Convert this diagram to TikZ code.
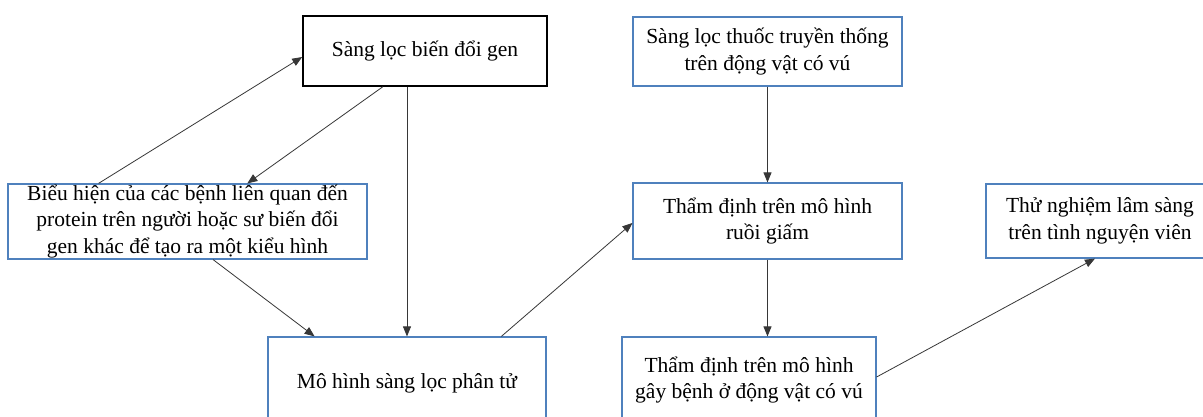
\documentclass[tikz,border=0pt]{standalone}
\usepackage{fontspec}
\setmainfont{Liberation Serif}
\usepackage{tikz}
\tikzset{
  block_font/.style = {font=\fontsize{21.5}{26.5}\selectfont},
  blue_line/.style = {draw={rgb,255:red,79;green,129;blue,189}, line width=1.2pt},
  black_line/.style = {draw=black, line width=1.6pt}
}
\tikzset{
  block/.style = {block_font, align=center, inner sep=0, blue_line},
  block_main/.style = {block, black_line},
  arrow/.style = {draw={rgb,255:red,55;green,55;blue,55}, line width=0.8pt,
    -{Triangle[length=10pt,width=8pt]}}
}
\usetikzlibrary{arrows.meta, calc}

\begin{document}
\begin{tikzpicture}[x=1pt, y=-1pt]{
        \useasboundingbox (0,0) rectangle (1203,416);
        \fill[white] (0,0) rectangle (1203,416);
        \clip (0,0) rectangle (1203,416);

        % Boxes, left part
        \node[block_main, minimum width=244, minimum height=70] at (425,51) (sl_gen) {
            Sàng lọc biến đổi gen};
        \node[block, minimum width=359, minimum height=75] at (187.5,221.5) (bieu_hien) {
            Biểu hiện của các bệnh liên quan đến\\
            protein trên người hoặc sư biến đổi\\
            gen khác để tạo ra một kiểu hình};
        \node[block, minimum width=278, minimum height=92] at (407,383) (mh_pt) {
            Mô hình sàng lọc phân tử};

        % Boxes, right part
        \node[block, minimum width=269, minimum height=69] at (767.5,51.5) (sl_thuoc) {
            Sàng lọc thuốc truyền thống\\
            trên động vật có vú};
        \node[block, minimum width=269, minimum height=76] at (767.5,221) (td_ruoi) {
            Thẩm định trên mô hình\\
            ruồi giấm};
        \node[block, minimum width=254, minimum height=86] at (749,380) (td_dv) {
            Thẩm định trên mô hình\\
            gây bệnh ở động vật có vú};
        \node[block, minimum width=228, minimum height=74] at (1100,221) (tn_ls) {
            Thử nghiệm lâm sàng\\
            trên tình nguyện viên};

        % Arrows
        \draw[arrow] ($(bieu_hien.north west)!0.253!(bieu_hien.north east)$)
            -- ($(sl_gen.west)+(0,6)$);
        \draw[arrow] ($(sl_gen.south west)!0.328!(sl_gen.south east)$)
            -- ($(bieu_hien.north west)!0.666!(bieu_hien.north east)$);
        \draw[arrow] (sl_gen.south -| mh_pt.north) -- (mh_pt.north);
        \draw[arrow] ($(bieu_hien.south west)!0.571!(bieu_hien.south east)$)
            -- ($(mh_pt.north west)!0.169!(mh_pt.north east)$);
        \draw[arrow] ($(mh_pt.north west)!0.838!(mh_pt.north east)$)
            -- ($(td_ruoi.west)+(0,2)$);
        \draw[arrow] (sl_thuoc.south) -- (td_ruoi.north);
        \draw[arrow] (td_ruoi.south) -- (td_ruoi.south |- td_dv.north);
        \draw[arrow] ($(td_dv.east)+(0,-3)$)
            -- ($(tn_ls.south west)!0.478!(tn_ls.south east)$);
        }
\end{tikzpicture}
\end{document}
